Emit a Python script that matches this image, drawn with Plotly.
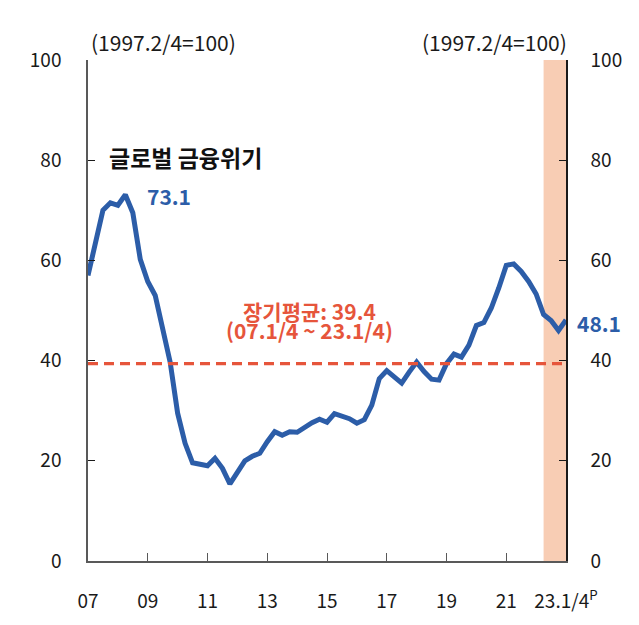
import plotly.graph_objects as go

# ---- data ----
years = [f"{y:02d}" for y in range(7, 24)]
quarters = [f"{y}.{q}/4" for y in years for q in range(1, 5)][:65]  # 07.1/4 ... 23.1/4

index_values = [
    57.0, 63.5, 70.0, 71.5,   # 2007
    71.0, 73.1, 69.5, 60.2,   # 2008
    55.8, 53.0, 46.0, 39.7,   # 2009
    29.5, 23.5, 19.6, 19.3,   # 2010
    19.0, 20.5, 18.5, 15.4,   # 2011
    17.5, 20.0, 20.9, 21.5,   # 2012
    23.8, 25.8, 25.1, 25.8,   # 2013
    25.7, 26.8, 27.6, 28.3,   # 2014
    27.7, 29.4, 29.0, 28.4,   # 2015
    27.5, 28.2, 31.1, 36.4,   # 2016
    38.0, 36.7, 35.5, 37.7,   # 2017
    39.7, 37.8, 36.3, 36.1,   # 2018
    39.4, 41.3, 40.7, 43.1,   # 2019
    47.0, 47.6, 50.5, 54.5,   # 2020
    59.0, 59.3, 57.8, 55.8,   # 2021
    53.3, 49.2, 48.0, 46.0,   # 2022
    48.1,                     # 2023.1
]

long_run_avg = 39.4
peak_label = "73.1"
last_label = "48.1"

x_tick_quarters = ["07.1/4", "09.1/4", "11.1/4", "13.1/4", "15.1/4",
                   "17.1/4", "19.1/4", "21.1/4", "23.1/4"]
x_tick_labels = ["07", "09", "11", "13", "15", "17", "19", "21", "23.1/4<sup>P</sup>"]
y_ticks = [0, 20, 40, 60, 80, 100]
shade_start = "22.2/4"
shade_end = "23.1/4"

BLUE = "#2C5DA8"
RED = "#E6553B"
SHADE = "#F8CDB4"
FONT = "Noto Sans CJK KR"
TXT = "#1a1a1a"

n = len(quarters)
xi = list(range(n))
qpos = {q: i for i, q in enumerate(quarters)}

fig = go.Figure()

# long-run average dashed line (drawn on the right-hand axis, same scale)
fig.add_trace(go.Scatter(
    x=xi, y=[long_run_avg] * n, mode="lines", yaxis="y2",
    line=dict(color=RED, width=3.2, dash="10px,6px"),
    hoverinfo="skip", showlegend=False))

# main series
fig.add_trace(go.Scatter(
    x=xi, y=index_values, mode="lines",
    line=dict(color=BLUE, width=5),
    text=quarters, hovertemplate="%{text}: %{y}<extra></extra>",
    showlegend=False))

# shaded recent period
fig.add_shape(type="rect", xref="x", yref="paper",
              x0=qpos[shade_start], x1=qpos[shade_end], y0=0, y1=1,
              fillcolor=SHADE, line_width=0, layer="below")

axis_line = "#595959"
fig.update_layout(
    width=631, height=617,
    margin=dict(l=80, r=73, t=52, b=62),
    paper_bgcolor="white", plot_bgcolor="white",
    font=dict(family=FONT, size=19, color=TXT),
    xaxis=dict(
        range=[0, n - 1], showgrid=False, zeroline=False,
        showline=True, linecolor=axis_line, linewidth=1.5,
        tickmode="array", tickvals=[qpos[q] for q in x_tick_quarters],
        ticktext=x_tick_labels,
        ticks="inside", ticklen=8, tickcolor=axis_line, tickwidth=1,
        tickfont=dict(size=19, color=TXT), ticklabelstandoff=22),
    yaxis=dict(
        range=[0, 100], tickvals=y_ticks, showgrid=False, zeroline=False,
        showline=True, linecolor=axis_line, linewidth=1.5,
        ticks="inside", ticklen=7, tickcolor=TXT, tickwidth=1.2,
        tickfont=dict(size=19, color=TXT), ticklabelstandoff=21),
    yaxis2=dict(
        range=[0, 100], tickvals=y_ticks, overlaying="y", side="right",
        showgrid=False, zeroline=False,
        showline=True, linecolor=TXT, linewidth=1.5,
        ticks="inside", ticklen=7, tickcolor=TXT, tickwidth=1.2,
        tickfont=dict(size=19, color=TXT), ticklabelstandoff=19),
)

# unit labels
fig.add_annotation(x=0, y=1, xref="paper", yref="paper", text="(1997.2/4=100)",
                   showarrow=False, xanchor="left", yanchor="middle", xshift=1, yshift=18,
                   font=dict(size=21, color=TXT))
fig.add_annotation(x=1, y=1, xref="paper", yref="paper", text="(1997.2/4=100)",
                   showarrow=False, xanchor="right", yanchor="middle", xshift=3, yshift=18,
                   font=dict(size=21, color=TXT))

# event label
fig.add_annotation(x=2.6, y=80.6, xref="x", yref="y", text="<b>글로벌 금융위기</b>",
                   showarrow=False, xanchor="left", yanchor="middle",
                   font=dict(size=23, color="#111111"))
# peak value
fig.add_annotation(x=qpos["08.2/4"], y=73.1, xref="x", yref="y", text=f"<b>{peak_label}</b>",
                   showarrow=False, xanchor="left", yanchor="middle", xshift=20, yshift=-1,
                   font=dict(size=21, color=BLUE))
# last value
fig.add_annotation(x=n - 1, y=index_values[-1], xref="x", yref="y", text=f"<b>{last_label}</b>",
                   showarrow=False, xanchor="left", yanchor="middle", xshift=9, yshift=-3,
                   font=dict(size=21, color=BLUE))
# long-run average label (two lines)
fig.add_annotation(x=29.7, y=49.9, xref="x", yref="y",
                   text=f"<b>장기평균: {long_run_avg}</b>",
                   showarrow=False, yanchor="middle", font=dict(size=21, color=RED))
fig.add_annotation(x=29.7, y=46.1, xref="x", yref="y",
                   text="<b>(07.1/4 ~ 23.1/4)</b>",
                   showarrow=False, yanchor="middle", font=dict(size=21, color=RED))

fig.write_html("out.html")
